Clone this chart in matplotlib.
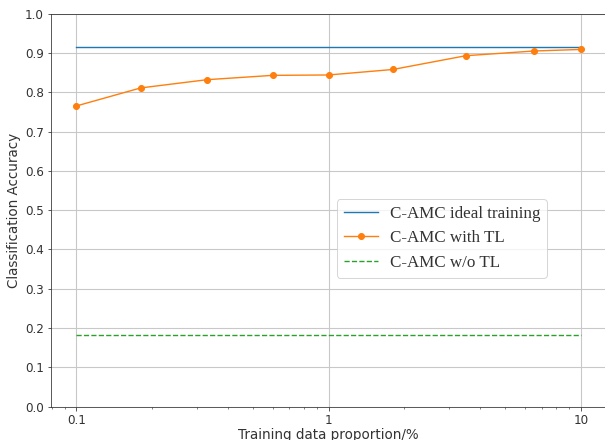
import numpy as np
import matplotlib
matplotlib.use("Agg")
from matplotlib import pyplot as plt

# data
proportion = [0.1, 0.18, 0.33, 0.6, 1.0, 1.8, 3.5, 6.5, 10.0]
acc_ideal = [0.915] * len(proportion)
acc_tl = [0.765, 0.811, 0.832, 0.843, 0.844, 0.858, 0.893, 0.905, 0.909]
acc_no_tl = [0.183] * len(proportion)

dark = '#333333'
plt.rcParams['text.color'] = dark
plt.rcParams['axes.labelcolor'] = dark
plt.rcParams['xtick.color'] = dark
plt.rcParams['ytick.color'] = dark
plt.rcParams['axes.edgecolor'] = dark

DPI = 72
fig = plt.figure(figsize=(605 / DPI, 440 / DPI), dpi=DPI)
ax = fig.add_axes([51 / 605, 33.5 / 440, 555 / 605, 392.8 / 440])

ax.plot(proportion, acc_ideal, color='C0', lw=1.4, label='C-AMC ideal training')
ax.plot(proportion, acc_tl, color='C1', lw=1.4, marker='o', markersize=6,
        label='C-AMC with TL')
ax.plot(proportion, acc_no_tl, color='C2', lw=1.4, ls='--', label='C-AMC w/o TL')

ax.set_xscale('log')
ax.set_xlim(10 ** -1.1, 10 ** 1.1)
ax.set_ylim(0, 1.0)
ax.set_yticks(np.arange(0, 1.01, 0.1))
ax.set_xticks([0.1, 1, 10])
ax.set_xticklabels(['0.1', '1', '10'])
ax.tick_params(labelsize=12)
ax.grid(True, which='major', color='#c8c8c8', lw=1.1)

ax.set_xlabel('Training data proportion/%', fontsize=13.5, labelpad=1)
ax.set_ylabel('Classification Accuracy', fontsize=13.5)

ax.legend(loc='upper left', bbox_to_anchor=(0.515, 0.528), borderaxespad=0,
          handletextpad=0.7, prop={'family': 'Liberation Serif', 'size': 17})

fig.savefig('out.png', dpi=DPI)
